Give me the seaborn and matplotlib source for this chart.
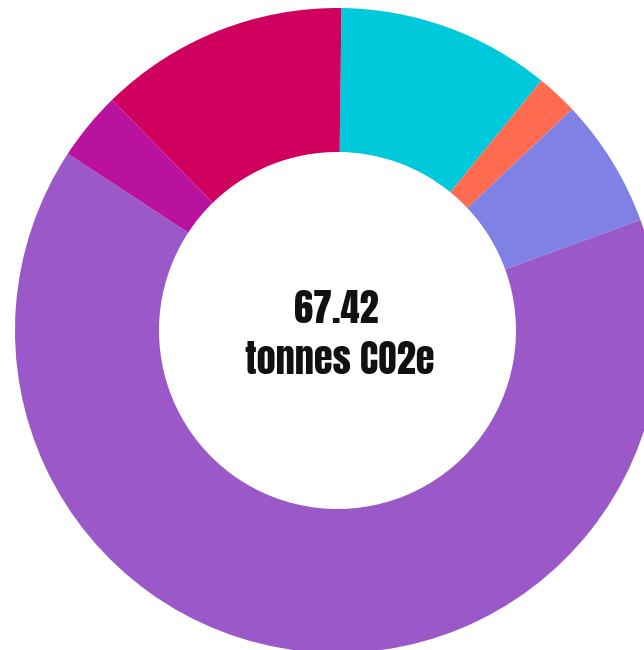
import matplotlib
matplotlib.use("Agg")
import matplotlib.pyplot as plt
import seaborn as sns
from matplotlib import font_manager

sns.set_theme(style="white")

# Data (tonnes CO2e), clockwise from top
categories = ["Cyan", "Orange", "Blue", "Purple", "Magenta", "Crimson"]
values = [7.21, 1.40, 4.36, 43.69, 2.33, 8.43]
colors = ["#00C9DB", "#FF6B50", "#7F81E5", "#9A58C8", "#B9129E", "#CF005E"]
total_label = "67.42"
unit_label = "tonnes CO2e"

fig = plt.figure(figsize=(6.44, 6.50), dpi=100)
ax = fig.add_axes([0, 0, 1, 1])

ax.pie(values, colors=colors, startangle=89.3, counterclock=False,
       radius=1.0, wedgeprops=dict(width=0.4465, linewidth=0, edgecolor="none"))

ax.set_xlim(-1.0465, 0.9504)
ax.set_ylim(-0.9907, 1.0248)
ax.set_aspect("equal")
ax.axis("off")

names = {f.name for f in font_manager.fontManager.ttflist}
fam = ["Anton", "DejaVu Sans"] if "Anton" in names else ["DejaVu Sans"]

ax.text(-0.0025, 0.0242, total_label, ha="center", va="baseline",
        fontsize=27.5, family=fam, color="#111111")
ax.text(0.006, -0.1358, unit_label, ha="center", va="baseline",
        fontsize=27.5, family=fam, color="#111111")

fig.savefig("out.png", dpi=100, facecolor="white")
